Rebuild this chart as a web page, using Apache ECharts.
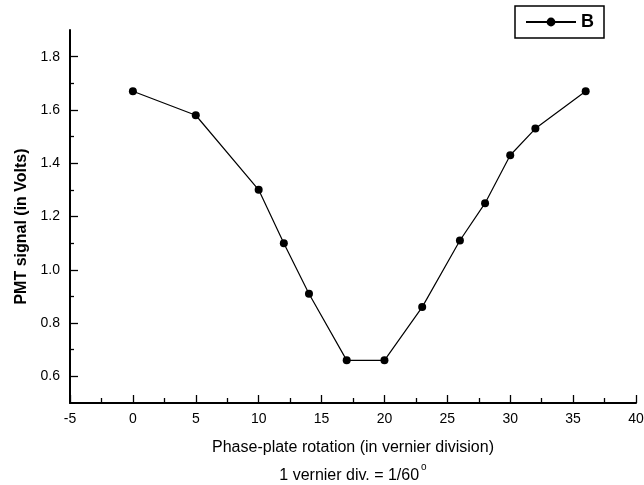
<!DOCTYPE html>
<html>
<head>
<meta charset="utf-8">
<script src="https://cdn.jsdelivr.net/npm/echarts@6/dist/echarts.min.js"></script>
<style>html,body{margin:0;padding:0;background:#fff;}#c{width:644px;height:485px;}</style>
</head>
<body>
<div id="c"></div>
<script>
var xValues = [0, 5, 10, 12, 14, 17, 20, 23, 26, 28, 30, 32, 36];
var yValues = [1.67, 1.58, 1.30, 1.10, 0.91, 0.66, 0.66, 0.86, 1.11, 1.25, 1.43, 1.53, 1.67];
var seriesName = 'B';
var yMajorTicks = [0.6, 0.8, 1.0, 1.2, 1.4, 1.6, 1.8];
var yMinorTicks = [0.7, 0.9, 1.1, 1.3, 1.5, 1.7];
var xTitle = 'Phase-plate rotation (in vernier division)';
var xSubTitle = '1 vernier div. = 1/60';
var yTitle = 'PMT signal (in Volts)';

var font = 'Liberation Sans, Arial, sans-serif';
var chart = echarts.init(document.getElementById('c'));
var data = xValues.map(function (x, i) { return [x, yValues[i]]; });

chart.setOption({
  backgroundColor: '#fff',
  animation: false,
  grid: { left: 70, right: 8, top: 30, bottom: 82, containLabel: false, outerBoundsMode: 'none' },
  legend: {
    show: true,
    data: [seriesName],
    top: 6, right: 40,
    orient: 'horizontal',
    borderColor: '#000', borderWidth: 1.5,
    padding: [7, 10, 7, 10],
    itemWidth: 50, itemHeight: 11, itemGap: 6,
    textStyle: { fontFamily: font, fontSize: 18, color: '#000', fontWeight: 'bold' }
  },
  xAxis: {
    type: 'value', min: -5, max: 40, interval: 5,
    splitLine: { show: false },
    axisLine: { show: true, onZero: false, lineStyle: { color: '#000', width: 2 } },
    axisTick: { show: true, inside: true, length: 8, lineStyle: { color: '#000', width: 1.3 } },
    minorTick: { show: true, splitNumber: 2, length: 5, lineStyle: { color: '#000', width: 1.3 } },
    axisLabel: { color: '#000', fontFamily: font, fontSize: 14, margin: 9 },
    name: xTitle + '\n' + xSubTitle + '{sup|o}',
    nameLocation: 'middle', nameGap: 31,
    nameTextStyle: {
      color: '#000', fontFamily: font, fontSize: 16, lineHeight: 28,
      rich: { sup: { fontSize: 10, color: '#000', fontFamily: font, padding: [0, 0, 18, 2] } }
    }
  },
  yAxis: [{
    type: 'value', min: 0.5, max: 1.9,
    splitLine: { show: false },
    axisLine: { show: true, onZero: false, lineStyle: { color: '#000', width: 2 } },
    axisTick: { show: true, inside: true, length: 8, customValues: yMajorTicks, lineStyle: { color: '#000', width: 1.3 } },
    axisLabel: { color: '#000', fontFamily: font, fontSize: 14, margin: 10, customValues: yMajorTicks,
      formatter: function (v) { return v.toFixed(1); } },
    name: yTitle, nameLocation: 'middle', nameGap: 39, nameRotate: 90,
    nameTextStyle: { color: '#000', fontFamily: font, fontSize: 16, fontWeight: 'bold', padding: [0, 20, 0, 0] }
  }, {
    type: 'value', min: 0.5, max: 1.9, position: 'left',
    splitLine: { show: false },
    axisLine: { show: false, onZero: false },
    axisTick: { show: true, inside: true, length: 4, customValues: yMinorTicks, lineStyle: { color: '#000', width: 1.3 } },
    axisLabel: { show: false }
  }],
  series: [{
    name: seriesName, type: 'line', data: data, yAxisIndex: 0,
    symbol: 'circle', symbolSize: 8,
    lineStyle: { color: '#000', width: 1.2 },
    itemStyle: { color: '#000' }
  }]
});
</script>
</body>
</html>
